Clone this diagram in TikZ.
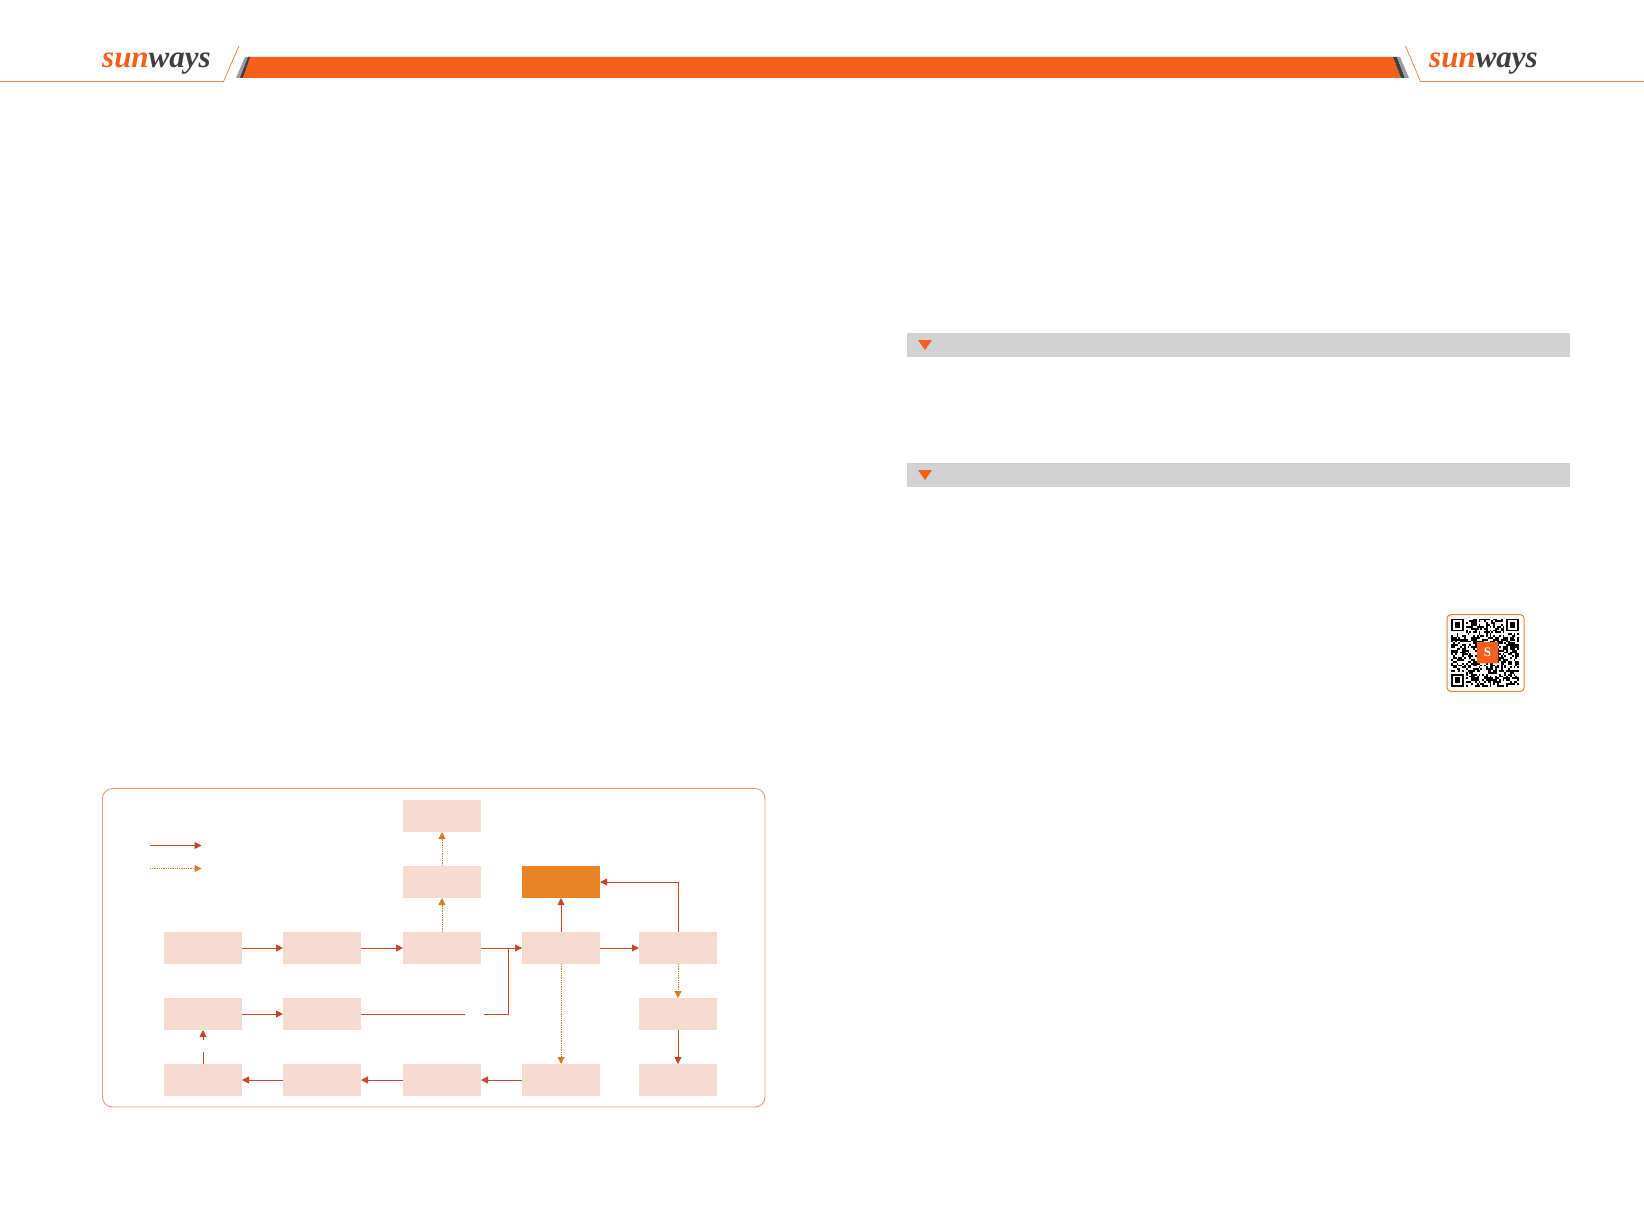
\documentclass[tikz,border=0pt]{standalone}
\usepackage{fontspec}
\setmainfont{Liberation Serif}
\usetikzlibrary{arrows.meta,positioning,calc}
\definecolor{swbar}{HTML}{F4601C}
\definecolor{swrule}{HTML}{EE8A4E}
\definecolor{swframe}{HTML}{E89A78}
\definecolor{swbox}{HTML}{F6D9CF}
\definecolor{swhot}{HTML}{E88224}
\definecolor{swred}{HTML}{C9452A}
\definecolor{swdot}{HTML}{CF7E2C}
\definecolor{swgrey}{HTML}{D2D2D2}
\definecolor{swdark}{HTML}{3F3F3F}
\definecolor{swmid}{HTML}{9C9C9C}
\tikzset{
  flowbox/.style={fill=swbox, minimum width=78pt, minimum height=32pt,
                  inner sep=0pt, outer sep=0pt},
  hotbox/.style={flowbox, fill=swhot},
  arr/.style={-{Triangle[length=7pt, width=7pt]}, line width=0.9pt, color=swred},
  darr/.style={-{Triangle[length=7pt, width=7pt]}, line width=0.8pt, color=swdot, densely dotted},
  seg/.style={line width=0.9pt, color=swred},
  rulerline/.style={color=swrule, line width=0.8pt},
  logotext/.style={font=\fontsize{31}{31}\selectfont\bfseries\itshape, inner sep=0pt, anchor=base west},
  headbar/.style={fill=swgrey, minimum width=663pt, minimum height=23.5pt,
                  inner sep=0pt, outer sep=0pt, anchor=north west}}

\begin{document}
\begin{tikzpicture}[x=1pt,y=-1pt]
  \useasboundingbox (0,0) rectangle (1644,1225);

  \coordinate (rla) at (0,81.5);
  \coordinate (rlb) at (223.5,81.5);
  \coordinate (rlc) at (239,46);
  \coordinate (rra) at (1644,81.5);
  \coordinate (rrb) at (1420.5,81.5);
  \coordinate (rrc) at (1405.5,46);
  \draw[rulerline] (rla) -- (rlb) -- (rlc);
  \draw[rulerline] (rra) -- (rrb) -- (rrc);
  \fill[swmid] (245,57) -- (251,57) -- (242,78) -- (236,78) -- cycle;
  \fill[swdark] (248,57) -- (251,57) -- (243,78) -- (240,78) -- cycle;
  \fill[swbar] (250,57) -- (1393,57) -- (1401,78) -- (243,78) -- cycle;
  \fill[swdark] (1393,57) -- (1397,57) -- (1405,78) -- (1401,78) -- cycle;
  \fill[swmid] (1397,57) -- (1400,57) -- (1409,78) -- (1405,78) -- cycle;
  \node[logotext] (logol) at (102,67.5) {\textcolor{swbar}{sun}\textcolor{swdark}{ways}};
  \node[logotext] (logor) at (1429,67.5) {\textcolor{swbar}{sun}\textcolor{swdark}{ways}};

  \node[headbar] (barone) at (907,333) {};
  \node[headbar] (bartwo) at (907,463) {};
  \fill[swbar] (918,340) -- (932,340) -- (925,350) -- cycle;
  \fill[swbar] (918,470) -- (932,470) -- (925,480) -- cycle;

  \pgfmathsetseed{1644}
  \foreach \i in {0,...,36}
    \foreach \j in {0,...,36} {
      \pgfmathtruncatemacro\qrbit{rnd<0.52 ? 1 : 0}
      \ifnum\qrbit=1
        \fill[black] ({1451+\i*1.84},{618.5+\j*1.84}) rectangle ++(1.84,1.84);
      \fi
    }
  \foreach \fx/\fy in {1451/618.5, 1506.2/618.5, 1451/673.7} {
    \fill[white] (\fx-1.8,\fy-1.8) rectangle ++(16.5,16.5);
    \fill[black] (\fx,\fy) rectangle ++(12.9,12.9);
    \fill[white] (\fx+1.84,\fy+1.84) rectangle ++(9.2,9.2);
    \fill[black] (\fx+3.68,\fy+3.68) rectangle ++(5.52,5.52);
  }
  \draw[color=swhot, line width=1pt, rounded corners=4pt] (1447,614.5) rectangle (1524,691.5);
  \node[fill=swbar, text=white, minimum size=21.5pt, inner sep=0pt, rounded corners=1pt,
        font=\bfseries\fontsize{13}{13}\selectfont] (qrlogo) at (1487.5,652.5) {S};

  \draw[color=swframe, line width=0.9pt, rounded corners=10pt] (102.5,788.5) rectangle (765,1107);

  \coordinate (lega) at (150,845.5);
  \coordinate (legb) at (201.5,845.5);
  \coordinate (legc) at (150,868.5);
  \coordinate (legd) at (201.5,868.5);
  \draw[arr] (lega) -- (legb);
  \draw[darr] (legc) -- (legd);

  \node[flowbox] (rAcC) at (442,816) {};
  \node[flowbox] (rBcC) at (442,882) {};
  \node[hotbox]  (rBcD) at (561,882) {};
  \node[flowbox] (rCcA) at (203,948) {};
  \node[flowbox] (rCcB) at (322,948) {};
  \node[flowbox] (rCcC) at (442,948) {};
  \node[flowbox] (rCcD) at (561,948) {};
  \node[flowbox] (rCcE) at (678,948) {};
  \node[flowbox] (rDcA) at (203,1014) {};
  \node[flowbox] (rDcB) at (322,1014) {};
  \node[flowbox] (rDcE) at (678,1014) {};
  \node[flowbox] (rEcA) at (203,1080) {};
  \node[flowbox] (rEcB) at (322,1080) {};
  \node[flowbox] (rEcC) at (442,1080) {};
  \node[flowbox] (rEcD) at (561,1080) {};
  \node[flowbox] (rEcE) at (678,1080) {};

  \draw[arr] (rCcA) -- (rCcB);
  \draw[arr] (rCcB) -- (rCcC);
  \draw[arr] (rCcC) -- (rCcD);
  \draw[arr] (rCcD) -- (rCcE);
  \draw[arr] (rCcD) -- (rBcD);
  \draw[arr] (rCcE.north) |- (rBcD.east);
  \draw[arr] (rDcA) -- (rDcB);
  \draw[arr] (rDcE) -- (rEcE);
  \draw[arr] (rEcD) -- (rEcC);
  \draw[arr] (rEcC) -- (rEcB);
  \draw[arr] (rEcB) -- (rEcA);

  \draw[darr] (rCcC) -- (rBcC);
  \draw[darr] (rBcC) -- (rAcC);
  \draw[darr] (rCcD) -- (rEcD);
  \draw[darr] (rCcE) -- (rDcE);

  \coordinate (gapa) at (465,1014);
  \coordinate (gapb) at (484,1014);
  \coordinate (joint) at (508.7,948);
  \draw[seg] (rDcB) -- (gapa);
  \draw[seg] (gapb) -| (joint);

  \coordinate (gapc) at (203,1052);
  \coordinate (gapd) at (203,1040);
  \draw[seg] (rEcA) -- (gapc);
  \draw[arr] (gapd) -- (rDcA);
\end{tikzpicture}
\end{document}
